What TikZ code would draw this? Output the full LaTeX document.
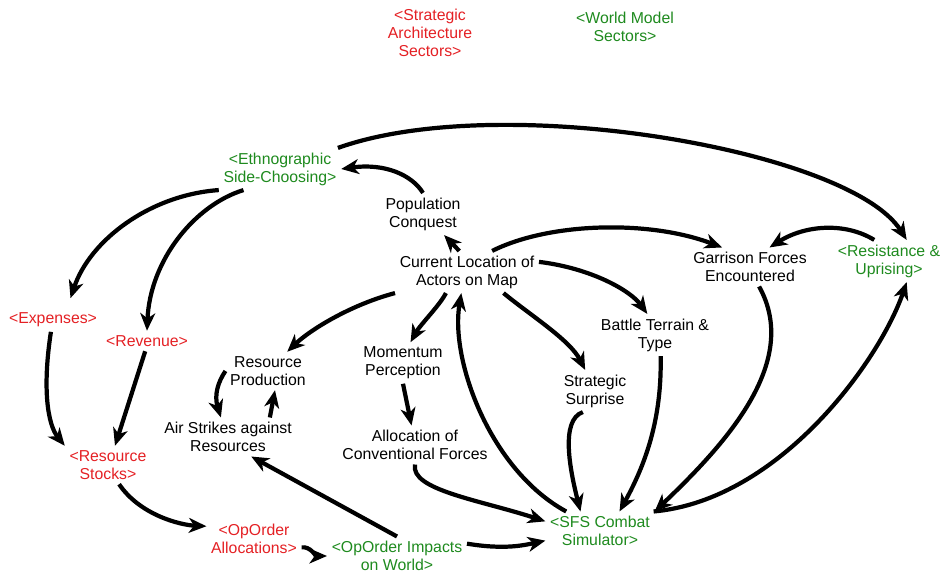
\documentclass[tikz,border=0pt]{standalone}
\usepackage{fontspec}
\setmainfont{Liberation Sans}
\usepackage{tikz}
\usetikzlibrary{arrows.meta}
\definecolor{red1}{RGB}{228,32,36}
\definecolor{green1}{RGB}{30,138,30}

\begin{document}
\begin{tikzpicture}[x=0.02cm, y=-0.02cm,
    var/.style={align=center, inner sep=2.5pt, font=\fontsize{9}{10.2}\selectfont, text=black},
    arch/.style={var, text=red1},
    world/.style={var, text=green1},
    link/.style={-{Stealth[length=10pt,width=8.5pt,inset=3pt]}, line width=2.4pt, color=black}
]
    \useasboundingbox (0,0) rectangle (941,577);

    % legend
    \node[arch, name=archlbl] at(430,33) {<Strategic\\Architecture\\Sectors>};
    \node[world, name=worldlbl] at(625,27) {<World Model\\Sectors>};

    \node[world, name=ethno] at(280,169) {<Ethnographic\\Side-Choosing>};
    \node[var, name=pop] at(423,214) {Population\\Conquest};
    \node[var, name=curloc] at(467,272) {Current Location of\\Actors on Map};
    \node[var, name=garr] at(750,267) {Garrison Forces\\Encountered};
    \node[world, name=resist] at(889,261) {<Resistance \&\\Uprising>};
    \node[arch, name=exp] at(53,320) {<Expenses>};
    \node[arch, name=rev] at(147,341) {<Revenue>};
    \node[var, name=battle] at(655,335) {Battle Terrain \&\\Type};
    \node[var, name=resprod] at(268,371) {Resource\\Production};
    \node[var, name=mom] at(403,363) {Momentum\\Perception};
    \node[var, name=surp] at(595,391) {Strategic\\Surprise};
    \node[var, name=air] at(228,437) {Air Strikes against\\Resources};
    \node[var, name=alloc] at(415,445) {Allocation of\\Conventional Forces};
    \node[arch, name=stocks] at(108,465) {<Resource\\Stocks>};
    \node[world, name=sfs] at(600,531) {<SFS Combat\\Simulator>};
    \node[arch, name=opalloc] at(254,539) {<OpOrder\\Allocations>};
    \node[world, name=opimp] at(397,556) {<OpOrder Impacts\\on World>};

    \draw[link] (ethno.20) .. controls (500,90) and (850,150) .. (resist.50);
    \draw[link] (pop.north) .. controls (412,175) and (385,163) .. (ethno.east);
    \draw[link] (curloc.110) -- (pop.-45);
    \draw[link] (ethno.south west) .. controls (150,195) and (90,240) .. ([shift={(0.35cm,0.2cm)}]exp.north);
    \draw[link] (ethno.-150) .. controls (195,205) and (150,260) .. (rev.north);
    \draw[link] (exp.-100) .. controls (42,390) and (48,425) .. (stocks.north west);
    \draw[link] (rev.-100) -- (stocks.70);

    \draw[link] (curloc.south west) .. controls (350,305) and (310,330) .. (resprod.45);
    \draw[link] (curloc.-135) .. controls (440,305) and (420,325) .. (mom.70);
    \draw[link] (curloc.40) .. controls (550,222) and (650,220) .. (garr.145);
    \draw[link] (curloc.8) .. controls (590,268) and (630,290) .. (battle.110);
    \draw[link] (curloc.-30) .. controls (530,315) and (570,340) .. (surp.115);
    \draw[link] (sfs.150) .. controls (490,470) and (450,360) .. (curloc.-105);

    \draw[link] (resist.125) .. controls (845,222) and (805,225) .. (garr.45);
    \draw[link] (garr.-65) .. controls (800,360) and (730,440) .. (sfs.north east);
    \draw[link] (battle.-75) .. controls (662,420) and (645,465) .. (sfs.45);
    \draw[link] (surp.-120) .. controls (560,420) and (570,470) .. (sfs.135);
    \draw[link] (alloc.south) .. controls (410,490) and (480,500) .. (sfs.170);
    \draw[link] (sfs.20) .. controls (780,500) and (880,360) .. (resist.-50);

    \draw[link] (resprod.west) .. controls (218,382) and (214,395) .. (air.110);
    \draw[link] (air.25) -- (resprod.-70);
    \draw[link] (mom.south) -- (alloc.100);
    \draw[link] (opimp.north) -- (air.-40);
    \draw[link] (opimp.10) .. controls (505,550) and (525,545) .. (sfs.-170);
    \draw[link] (stocks.-60) .. controls (140,515) and (180,525) .. (opalloc.165);
    \draw[link] (opalloc.-10) .. controls (310,546) and (316,556) .. (opimp.west);
\end{tikzpicture}
\end{document}
